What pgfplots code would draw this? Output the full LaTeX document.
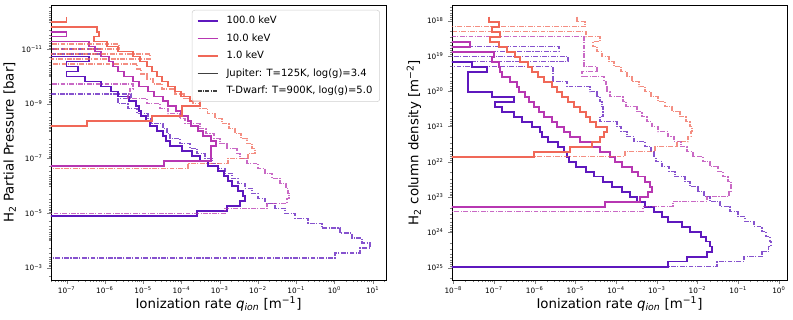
\documentclass[border=0pt]{standalone}
\usepackage{fontspec}
\setmainfont{DejaVu Sans}
\usepackage{pgfplots}
\pgfplotsset{compat=1.18}
\definecolor{cA}{RGB}{94,24,190}
\definecolor{cB}{RGB}{183,55,178}
\definecolor{cC}{RGB}{240,104,88}
\definecolor{jgray}{RGB}{64,64,64}
\newcommand\minorLY{}
\foreach \e in {-13,...,-3}{\foreach \m in {2,...,9}{\xdef\minorLY{\minorLY\m e\e,}}}
\newcommand\minorX{}
\foreach \e in {-9,...,1}{\foreach \m in {2,...,9}{\xdef\minorX{\minorX\m e\e,}}}
\newcommand\minorRY{}
\foreach \e in {17,...,25}{\foreach \m in {2,...,9}{\xdef\minorRY{\minorRY\m e\e,}}}
\newcommand\p[1]{10\textsuperscript{#1}}
\pgfplotsset{
 every axis/.append style={
   scale only axis, width=251.25pt, height=206.25pt,
   y dir=reverse,
   tick align=outside,
   major tick length=2.8pt, minor tick length=1.6pt,
   axis line style={line width=0.6pt},
   tick label style={font=\fontsize{5.5}{6.5}\selectfont},
   xticklabel style={yshift=1.2pt},
   label style={font=\fontsize{10}{12}\selectfont},
   xlabel style={yshift=4.5pt},
   ylabel style={yshift=-2.5pt},
 },
 jup/.style={const plot, line width=1.25pt, forget plot},
 tdw/.style={const plot, line width=1.0pt, opacity=0.75, forget plot, dash pattern=on 3.6pt off 1.1pt on 0.8pt off 1.1pt},
}
\begin{document}
\begin{tikzpicture}
\useasboundingbox (0,0) rectangle (594.75pt,240pt);
% ---------------- left panel ----------------
\begin{axis}[xmode=log, ymode=log, xtick pos=bottom, ytick pos=left,
  at={(38.25pt,30pt)}, anchor=south west,
  xmin=3.9e-8, xmax=22.3, ymin=2.45e-13, ymax=2.83e-3,
  xtick={1e-7,1e-6,1e-5,1e-4,1e-3,1e-2,1e-1,1,10},
  xticklabels={\p{−7},\p{−6},\p{−5},\p{−4},\p{−3},\p{−2},\p{−1},\p{0},\p{1}},
  minor xtick/.expanded={\minorX 1e-8},
  ytick={1e-11,1e-9,1e-7,1e-5,1e-3},
  yticklabels={\p{−11},\p{−9},\p{−7},\p{−5},\p{−3}},
  minor ytick/.expanded={\minorLY 1e-12,1e-10,1e-8,1e-6,1e-4},
  xlabel={Ionization rate \textit{q}\textsubscript{\textit{ion}} [m\textsuperscript{−1}]},
  ylabel={H\textsubscript{2} Partial Pressure [bar]},
  legend style={at={(0.982,0.982)}, anchor=north east, font=\fontsize{7.5}{9}\selectfont,
    draw=black!18, rounded corners=2pt, fill=white, fill opacity=0.8, text opacity=1,
    inner xsep=3.5pt, inner ysep=2.5pt, row sep=1.9pt,
    /tikz/every odd column/.append style={column sep=4pt}},
  legend cell align=left,
  legend image code/.code={\draw[#1] (0pt,0pt) -- (15pt,0pt);},
]
\addlegendimage{cA, line width=1.25pt}\addlegendentry{100.0 keV}
\addlegendimage{cB, line width=1.25pt}\addlegendentry{10.0 keV}
\addlegendimage{cC, line width=1.25pt}\addlegendentry{1.0 keV}
\addlegendimage{jgray, line width=1.3pt}\addlegendentry{Jupiter: T=125K, log(g)=3.4}
\addlegendimage{jgray, line width=1.0pt, dash pattern=on 3pt off 1pt on 0.8pt off 1pt}\addlegendentry{T-Dwarf: T=900K, log(g)=5.0}
% 100 keV Jupiter
\addplot[jup, cA] coordinates {(1e-9,1.89e-11) (3.8e-7,2.87e-11) (1.0e-7,4.37e-11) (2.0e-7,6.64e-11) (1.0e-7,1.01e-10) (3.0e-7,1.53e-10) (7.9e-7,2.33e-10) (1.44e-6,3.55e-10) (2.2e-6,5.4e-10) (4.3e-6,8.2e-10) (6.5e-6,1.25e-9) (7.8e-6,1.9e-9) (8.8e-6,2.88e-9) (1.18e-5,4.39e-9) (1.5e-5,6.67e-9) (2.3e-5,1.01e-8) (3.3e-5,1.54e-8) (3.9e-5,2.34e-8) (5.0e-5,3.56e-8) (1.03e-4,5.42e-8) (1.9e-4,8.24e-8) (3.05e-4,1.25e-7) (4.9e-4,1.91e-7) (9.0e-4,2.9e-7) (1.3e-3,4.41e-7) (1.65e-3,6.7e-7) (2.1e-3,1.02e-6) (3.0e-3,1.55e-6) (4.1e-3,2.36e-6) (4.6e-3,3.58e-6) (3.4e-3,5.45e-6) (1.55e-3,8.28e-6) (2.55e-4,1.26e-5) (1e-9,1.26e-5)};
% 100 keV T-dwarf
\addplot[tdw, cA] coordinates {(1e-9,1.0e-11) (7.4e-7,1.53e-11) (1e-9,4.37e-10) (4.8e-6,6.64e-10) (2.2e-6,1.01e-9) (4.0e-6,1.53e-9) (6.9e-6,2.33e-9) (1.33e-5,3.55e-9) (1.6e-5,5.4e-9) (3.3e-5,8.2e-9) (4.2e-5,1.25e-8) (5.0e-5,1.9e-8) (9.2e-5,2.88e-8) (1.67e-4,4.39e-8) (2.55e-4,6.67e-8) (4.1e-4,1.01e-7) (6.3e-4,1.54e-7) (9.0e-4,2.34e-7) (1.38e-3,3.56e-7) (2.1e-3,5.42e-7) (3.0e-3,8.24e-7) (4.6e-3,1.25e-6) (7.0e-3,1.91e-6) (1.0e-2,2.9e-6) (1.53e-2,4.41e-6) (2.8e-2,6.7e-6) (5.1e-2,1.02e-5) (9.3e-2,1.55e-5) (0.204,2.36e-5) (0.473,3.58e-5) (1.4,5.45e-5) (2.88,8.28e-5) (5.25,1.26e-4) (8.5,1.91e-4) (4.66,2.91e-4) (1.03,4.43e-4) (1e-9,4.43e-4)};
% 10 keV Jupiter
\addplot[jup, cB] coordinates {(1e-9,2.32e-12) (1.0e-7,3.53e-12) (1e-9,5.37e-12) (3.8e-7,8.17e-12) (5.5e-7,1.24e-11) (7.9e-7,1.89e-11) (1.28e-6,2.87e-11) (1.62e-6,4.37e-11) (2.2e-6,6.64e-11) (3.15e-6,1.01e-10) (5.4e-6,1.53e-10) (7.8e-6,2.33e-10) (1.33e-5,3.55e-10) (1.91e-5,5.4e-10) (3.3e-5,8.2e-10) (4.45e-5,1.25e-9) (7.2e-5,1.9e-9) (9.7e-5,2.88e-9) (1.48e-4,4.39e-9) (1.78e-4,6.67e-9) (2.7e-4,1.01e-8) (3.66e-4,1.54e-8) (5.9e-4,2.34e-8) (8.0e-4,3.56e-8) (5.9e-4,5.42e-8) (5.9e-4,8.24e-8) (5.9e-4,1.25e-7) (3.56e-5,1.91e-7) (1e-9,1.91e-7)};
% 10 keV T-dwarf
\addplot[tdw, cB] coordinates {(1e-9,1.89e-10) (5.4e-6,2.87e-10) (4.5e-6,4.37e-10) (4.0e-6,6.64e-10) (1.26e-5,1.01e-9) (2.75e-5,1.53e-9) (4.45e-5,2.33e-9) (9.2e-5,3.55e-9) (1.24e-4,5.4e-9) (3.05e-4,8.2e-9) (4.4e-4,1.25e-8) (7.1e-4,1.9e-8) (1.02e-3,2.88e-8) (1.55e-3,4.39e-8) (2.83e-3,6.67e-8) (3.4e-3,1.01e-7) (5.2e-3,1.54e-7) (1.0e-2,2.34e-7) (1.53e-2,3.56e-7) (2.33e-2,5.42e-7) (3.77e-2,8.24e-7) (5.4e-2,1.25e-6) (6.1e-2,1.91e-6) (6.5e-2,2.9e-6) (5.75e-2,4.41e-6) (1.73e-2,6.7e-6) (1.38e-3,1.02e-5) (1e-9,1.02e-5)};
% 1 keV Jupiter
\addplot[jup, cC] coordinates {(1.0e-7,6.6e-13) (1.0e-7,1.0e-12) (1e-9,1.53e-12) (6.2e-7,2.32e-12) (7.0e-7,3.53e-12) (5.2e-7,5.37e-12) (1.13e-6,8.17e-12) (2.2e-6,1.24e-11) (5.4e-6,1.89e-11) (8.2e-6,2.87e-11) (1.26e-5,4.37e-11) (1.7e-5,6.64e-11) (2.3e-5,1.01e-10) (3.1e-5,1.53e-10) (4.45e-5,2.33e-10) (6.8e-5,3.55e-10) (9.7e-5,5.4e-10) (1.67e-4,8.2e-10) (3.05e-4,1.25e-9) (1.03e-4,1.9e-9) (1.03e-4,2.88e-9) (1.7e-5,4.39e-9) (3.4e-7,6.67e-9) (1e-9,6.67e-9)};
% 1 keV T-dwarf
\addplot[tdw, cC] coordinates {(1e-9,6.61e-12) (2.33e-6,1.0e-11) (1e-9,1.53e-11) (1.51e-5,2.32e-11) (1e-9,3.53e-11) (6.9e-6,5.37e-11) (8.8e-6,8.17e-11) (1.26e-5,1.24e-10) (1.8e-5,1.89e-10) (3.1e-5,2.87e-10) (6.8e-5,4.37e-10) (1.17e-4,6.64e-10) (2.0e-4,1.01e-9) (3.05e-4,1.53e-9) (4.9e-4,2.33e-9) (7.5e-4,3.55e-9) (1.15e-3,5.4e-9) (1.75e-3,8.2e-9) (2.5e-3,1.25e-8) (3.6e-3,1.9e-8) (5.2e-3,2.88e-8) (7.0e-3,4.39e-8) (8.4e-3,6.67e-8) (5.5e-3,1.01e-7) (1.65e-3,1.54e-7) (1.48e-4,2.34e-7) (1e-9,2.34e-7)};
\end{axis}
% ---------------- right panel ----------------
\begin{axis}[xmode=log, ymode=log, xtick pos=bottom, ytick pos=left,
  at={(339pt,30pt)}, anchor=south west,
  xmin=9.3e-9, xmax=1.58, ymin=3.59e17, ymax=2.22e25,
  xtick={1e-8,1e-7,1e-6,1e-5,1e-4,1e-3,1e-2,1e-1,1},
  xticklabels={\p{−8},\p{−7},\p{−6},\p{−5},\p{−4},\p{−3},\p{−2},\p{−1},\p{0}},
  minor xtick/.expanded={\minorX 1e-9},
  ytick={1e18,1e19,1e20,1e21,1e22,1e23,1e24,1e25},
  yticklabels={\p{18},\p{19},\p{20},\p{21},\p{22},\p{23},\p{24},\p{25}},
  minor ytick/.expanded={\minorRY 1e17},
  xlabel={Ionization rate \textit{q}\textsubscript{\textit{ion}} [m\textsuperscript{−1}]},
  ylabel={H\textsubscript{2} column density [m\textsuperscript{−2}]},
]
% 100 keV Jupiter
\addplot[jup, cA] coordinates {(1e-10,1.45e19) (2.88e-8,2.01e19) (6.7e-8,2.79e19) (2.3e-8,1.026e20) (8.9e-8,1.42e20) (3.1e-7,1.97e20) (1.06e-7,2.73e20) (1.57e-7,3.78e20) (3.1e-7,5.25e20) (4.9e-7,7.26e20) (8.6e-7,1.007e21) (1.35e-6,1.40e21) (1.51e-6,1.93e21) (2.12e-6,2.68e21) (3.73e-6,3.72e21) (5.25e-6,5.14e21) (6.2e-6,7.13e21) (7.0e-6,9.86e21) (1.04e-5,1.37e22) (1.82e-5,1.90e22) (2.86e-5,2.62e22) (4.8e-5,3.64e22) (7.9e-5,5.05e22) (1.4e-4,6.98e22) (2.2e-4,9.68e22) (3.27e-4,1.34e23) (5.1e-4,1.86e23) (8.5e-4,2.58e23) (1.34e-3,3.57e23) (1.88e-3,4.94e23) (4.16e-3,6.85e23) (6.5e-3,9.48e23) (1.22e-2,1.315e24) (1.62e-2,1.82e24) (2.03e-2,2.52e24) (2.27e-2,3.50e24) (1.71e-2,4.85e24) (5.5e-3,6.71e24) (1.88e-3,9.31e24) (1e-10,9.31e24)};
% 100 keV T-dwarf
\addplot[tdw, cA] coordinates {(1e-10,5.46e18) (3.95e-6,7.55e18) (1e-10,1.047e19) (6.6e-6,1.45e19) (1e-10,2.01e19) (2.82e-6,5.35e19) (6.2e-6,7.41e19) (2.29e-5,1.026e20) (3.4e-5,1.42e20) (4.0e-5,1.97e20) (4.5e-5,2.73e20) (4.8e-5,3.78e20) (4.8e-5,5.25e20) (4.0e-5,7.26e20) (1.05e-4,1.007e21) (1.32e-4,1.40e21) (1.85e-4,1.93e21) (2.75e-4,2.68e21) (5.1e-4,3.72e21) (7.2e-4,5.14e21) (8.5e-4,7.13e21) (9.5e-4,9.86e21) (1.34e-3,1.37e22) (2.0e-3,1.90e22) (2.8e-3,2.62e22) (4.93e-3,3.64e22) (6.5e-3,5.05e22) (1.03e-2,6.98e22) (1.45e-2,9.68e22) (2.03e-2,1.34e23) (3.57e-2,1.86e23) (6.3e-2,2.58e23) (9.9e-2,3.57e23) (0.147,4.94e23) (0.244,6.85e23) (0.385,9.48e23) (0.48,1.315e24) (0.6,1.82e24) (0.64,2.52e24) (0.55,3.50e24) (0.385,4.85e24) (0.139,6.71e24) (3.0e-2,9.31e24) (1e-10,9.31e24)};
% 10 keV Jupiter
\addplot[jup, cB] coordinates {(1e-10,3.94e18) (2.57e-8,5.46e18) (1e-10,7.55e18) (1.0e-7,1.047e19) (8.9e-8,1.45e19) (1.33e-7,2.01e19) (1.4e-7,2.79e19) (1.57e-7,3.86e19) (2.47e-7,5.35e19) (3.67e-7,7.41e19) (4.1e-7,1.026e20) (5.8e-7,1.42e20) (7.2e-7,1.97e20) (9.6e-7,2.73e20) (1.28e-6,3.78e20) (1.69e-6,5.25e20) (2.66e-6,7.26e20) (3.53e-6,1.007e21) (5.25e-6,1.40e21) (7.4e-6,1.93e21) (1.3e-5,2.68e21) (2.56e-5,3.72e21) (4.0e-5,5.14e21) (7.1e-5,7.13e21) (9.4e-5,9.86e21) (1.4e-4,1.37e22) (2.46e-4,1.90e22) (3.45e-4,2.62e22) (5.1e-4,3.64e22) (6.8e-4,5.05e22) (7.6e-4,6.98e22) (6.1e-4,9.68e22) (3.9e-4,1.34e23) (5.3e-5,1.86e23) (1e-10,1.86e23)};
% 10 keV T-dwarf
\addplot[tdw, cB] coordinates {(1e-10,2.84e18) (1.63e-5,2.01e19) (3.4e-5,2.79e19) (1.45e-5,3.86e19) (5.05e-5,5.35e19) (5.65e-5,7.41e19) (5.97e-5,1.026e20) (7.1e-5,1.42e20) (1.48e-4,1.97e20) (1.75e-4,2.73e20) (3.27e-4,3.78e20) (4.3e-4,5.25e20) (5.7e-4,7.26e20) (7.6e-4,1.007e21) (1.07e-3,1.40e21) (1.88e-3,1.93e21) (2.65e-3,2.68e21) (3.94e-3,3.72e21) (5.5e-3,5.14e21) (7.7e-3,7.13e21) (1.36e-2,9.86e21) (2.03e-2,1.37e22) (3.2e-2,1.90e22) (4.2e-2,2.62e22) (5.6e-2,3.64e22) (6.65e-2,5.05e22) (6.65e-2,6.98e22) (5.94e-2,9.68e22) (1.71e-2,1.34e23) (2.5e-3,1.86e23) (4.58e-4,2.58e23) (1e-10,2.58e23)};
% 1 keV Jupiter
\addplot[jup, cC] coordinates {(7.5e-8,7.71e17) (7.5e-8,1.067e18) (1.33e-7,1.48e18) (8.9e-8,2.05e18) (1.4e-7,2.84e18) (8.0e-8,3.94e18) (1.33e-7,5.46e18) (2.08e-7,7.55e18) (3.28e-7,1.047e19) (4.36e-7,1.45e19) (6.8e-7,2.01e19) (8.6e-7,2.79e19) (1.2e-6,3.86e19) (1.69e-6,5.35e19) (2.66e-6,7.41e19) (3.53e-6,1.026e20) (4.7e-6,1.42e20) (6.6e-6,1.97e20) (9.2e-6,2.73e20) (1.3e-5,3.78e20) (1.82e-5,5.25e20) (2.29e-5,7.26e20) (3.2e-5,1.007e21) (5.97e-5,1.40e21) (5.0e-5,1.93e21) (4.0e-5,2.68e21) (2.56e-5,3.72e21) (7.4e-6,5.14e21) (9.6e-7,7.13e21) (1e-10,7.13e21)};
% 1 keV T-dwarf
\addplot[tdw, cC] coordinates {(1.09e-5,7.71e17) (1.09e-5,1.067e18) (1.72e-5,1.48e18) (1e-10,2.05e18) (1.82e-5,2.84e18) (4.0e-5,3.94e18) (2.7e-5,5.46e18) (3.4e-5,7.55e18) (4.5e-5,1.047e19) (6.7e-5,1.45e19) (8.9e-5,2.01e19) (1.32e-4,2.79e19) (1.85e-4,3.86e19) (2.46e-4,5.35e19) (3.66e-4,7.41e19) (5.1e-4,1.026e20) (7.2e-4,1.42e20) (1.07e-3,1.97e20) (1.59e-3,2.73e20) (2.36e-3,3.78e20) (3.7e-3,5.25e20) (5.2e-3,7.26e20) (6.5e-3,1.007e21) (7.3e-3,1.40e21) (6.9e-3,1.93e21) (5.85e-3,2.68e21) (3.13e-3,3.72e21) (9.0e-4,5.14e21) (1.66e-4,7.13e21) (1e-10,7.13e21)};
\end{axis}
\end{tikzpicture}
\end{document}
